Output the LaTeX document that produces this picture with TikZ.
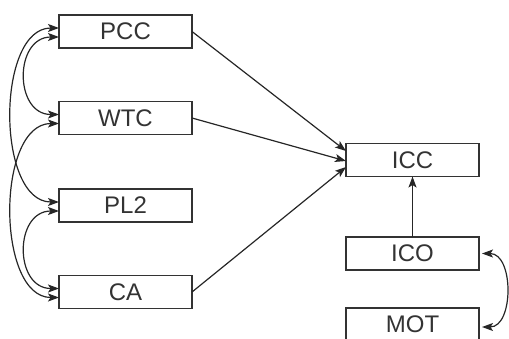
\documentclass[tikz,border=0pt]{standalone}
\usepackage{fontspec}
\setmainfont{Liberation Sans}
\usepackage{tikz}
\usetikzlibrary{arrows.meta}

\begin{document}
\begin{tikzpicture}[x=1pt,y=-1pt,
        box/.style={draw=black!80,line width=1.2pt,minimum width=133pt,minimum height=33pt,
          inner sep=0pt,outer sep=0pt,text=black!80,font=\fontsize{24}{24}\selectfont},
        path/.style={draw=black!85,line width=1.2pt,-{Stealth[length=11pt,width=8pt,inset=2.5pt]}},
        corr/.style={draw=black!85,line width=1.2pt,
          {Stealth[length=11pt,width=8pt,inset=2.5pt]}-{Stealth[length=11pt,width=8pt,inset=2.5pt]}}]

        \useasboundingbox (0,0) rectangle (509,338);

        \node[box]         (PCC) at (125.5, 31.5)        {PCC};
        \node[box]         (WTC) at (125.5, 118)         {WTC};
        \node[box]         (PL2) at (125.5, 205.5)       {PL2};
        \node[box]         (CA)  at (125.5, 292)         {CA};
        \node[box]         (ICC) at (412.5, 160)         {ICC};
        \node[box]         (ICO) at (412.5, 253.5)       {ICO};
        \node[box]         (MOT) at (412.5, 324.5)       {MOT};


        \draw[path] (PCC.east) -- ([yshift=9pt]ICC.west);
        \draw[path] (WTC.east) -- ([yshift=-1pt]ICC.west);
        \draw[path] (CA.east)  -- ([yshift=-7pt]ICC.west);
        \draw[path] (ICO.north) -- (ICC.south);

        \draw[corr] ([yshift=3.5pt]PCC.west) .. controls +(-63,0) and +(-63,0) .. ([yshift=3.5pt]PL2.west);
        \draw[corr] ([yshift=-5.5pt]PCC.west) .. controls +(-45,0) and +(-45,0) .. ([yshift=3.5pt]WTC.west);
        \draw[corr] ([yshift=-5.5pt]WTC.west) .. controls +(-63,0) and +(-63,0) .. ([yshift=-5.5pt]CA.west);
        \draw[corr] ([yshift=-5.5pt]PL2.west) .. controls +(-45,0) and +(-45,0) .. ([yshift=3.5pt]CA.west);
        \draw[corr] ([xshift=3pt]ICO.east) .. controls +(32,0) and +(32,0) .. ([xshift=3pt,yshift=-2.5pt]MOT.east);
      \end{tikzpicture}
\end{document}
